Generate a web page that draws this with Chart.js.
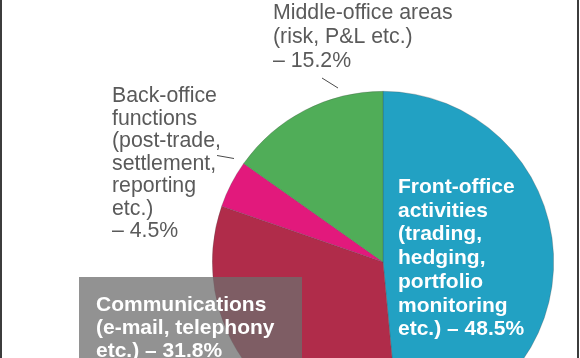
<!DOCTYPE html>
<html>
<head>
<meta charset="utf-8">
<script src="https://cdn.jsdelivr.net/npm/chart.js@4.4.1/dist/chart.umd.min.js"></script>
<style>
html, body { margin: 0; padding: 0; background: #fff; overflow: hidden; width: 580px; height: 358px; }
#wrap { position: relative; width: 580px; height: 358px; overflow: hidden; }
#chart { position: absolute; left: 0; top: 0; }
#wrap:before, #wrap:after { content: ""; position: absolute; top: 0; bottom: 0; width: 2px; background: #3c3c3c; z-index: 2; }
#wrap:before { left: 0; }
#wrap:after { left: 577px; }
</style>
</head>
<body>
<div id="wrap"><canvas id="chart" width="580" height="433"></canvas></div>
<script>
const categories = ["Front-office activities", "Communications", "Back-office functions", "Middle-office areas"];
const shares = [48.5, 31.8, 4.5, 15.2];
const sliceColors = ["#22a1c3", "#b02c4a", "#e2197c", "#50ad58"];
// label text per slice; the share is appended to the last line (or gets its own line if "")
const labelLines = [
    ["Front-office", "activities", "(trading,", "hedging,", "portfolio", "monitoring", "etc.)"],
    ["Communications", "(e-mail, telephony", "etc.)"],
    ["Back-office", "functions", "(post-trade,", "settlement,", "reporting", "etc.)", ""],
    ["Middle-office areas", "(risk, P&L etc.)", ""]
];

const FONT = '"Liberation Sans", Arial, Helvetica, sans-serif';

function linesFor(i) {
    const lines = labelLines[i].slice();
    const last = lines.length - 1;
    const pct = "\u2013 " + shares[i] + "%";
    lines[last] = lines[last] ? lines[last] + " " + pct : pct;
    return lines;
}

/* where each label block sits */
const blocks = [
    { i: 0, x: 398, y: 193, lh: 23.7, font: "bold 21px " + FONT, color: "#ffffff" },
    { i: 1, x: 96, y: 311, lh: 23, font: "bold 21px " + FONT, color: "#ffffff" },
    { i: 2, x: 112, y: 102, lh: 22.5, font: "21.3px " + FONT, color: "#5a5a5a" },
    { i: 3, x: 273, y: 19, lh: 24, font: "21.3px " + FONT, color: "#5a5a5a" }
];

const labelPlugin = {
    id: "labels",
    afterDraw(chart) {
        const ctx = chart.ctx;
        ctx.save();

        /* grey box behind the communications label */
        ctx.fillStyle = "rgba(110,110,110,0.75)";
        ctx.fillRect(79, 277, 223, 100);

        /* leader lines */
        ctx.strokeStyle = "#4a4a4a";
        ctx.lineWidth = 1;
        ctx.beginPath();
        ctx.moveTo(322, 78); ctx.lineTo(338, 88);
        ctx.moveTo(217, 155.5); ctx.lineTo(234, 158.5);
        ctx.stroke();

        ctx.textBaseline = "alphabetic";
        ctx.textAlign = "left";
        blocks.forEach(b => {
            ctx.font = b.font;
            ctx.fillStyle = b.color;
            linesFor(b.i).forEach((t, k) => ctx.fillText(t, b.x, b.y + k * b.lh));
        });
        ctx.restore();
    }
};

new Chart(document.getElementById("chart"), {
    type: "pie",
    data: {
        labels: categories,
        datasets: [{
            data: shares,
            backgroundColor: sliceColors,
            borderColor: "rgba(70,70,70,0.45)",
            borderWidth: 0.6
        }]
    },
    options: {
        responsive: false,
        animation: false,
        rotation: 0,
        layout: { padding: { left: 212, right: 26, top: 91, bottom: 0 } },
        plugins: {
            legend: { display: false },
            tooltip: { enabled: false }
        }
    },
    plugins: [labelPlugin]
});
</script>
</body>
</html>
